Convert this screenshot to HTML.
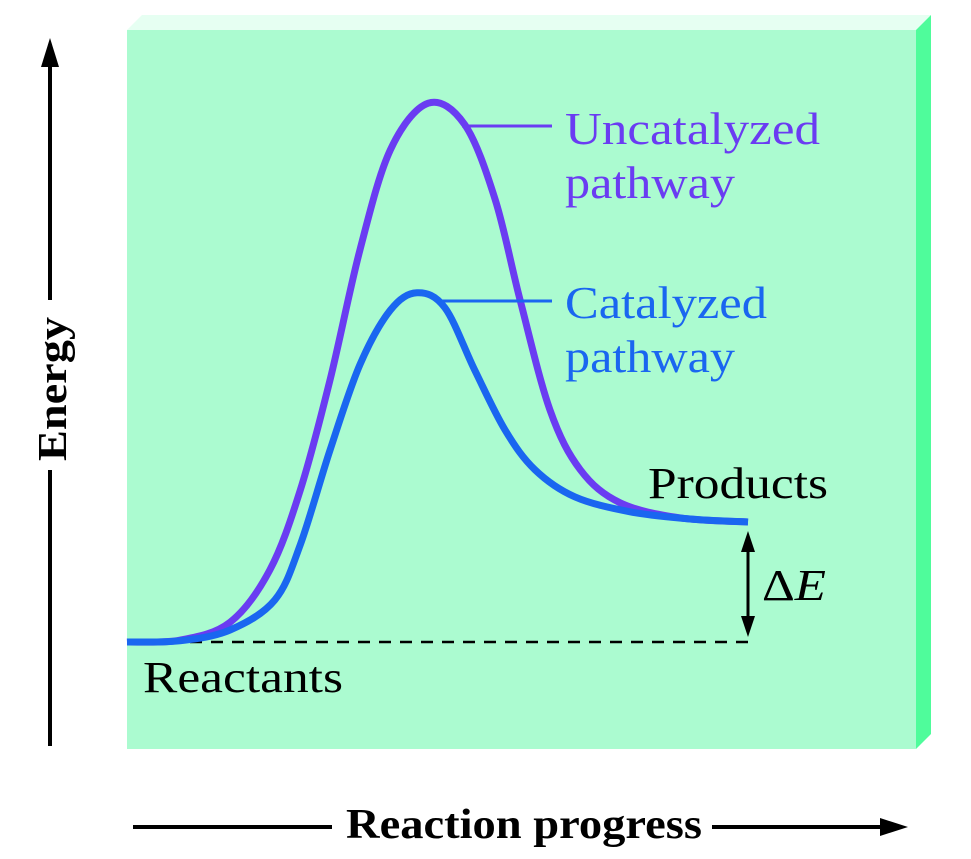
<!DOCTYPE html>
<html><head><meta charset="utf-8"><style>
html,body{margin:0;padding:0;background:#fff;}
svg{display:block;}
text{font-family:"Liberation Serif",serif;}
</style></head><body>
<svg width="971" height="859" viewBox="0 0 971 859">
  <polygon points="127,30 142,15 931,15 916,30" fill="#e6fff2"/>
  <polygon points="916,30 931,15 931,734 916,749" fill="#4ffc9b"/>
  <rect x="127" y="30" width="789" height="719" fill="#abfbd0"/>

  <g>
    <line x1="50" y1="64" x2="50" y2="300" stroke="#000" stroke-width="4"/>
    <line x1="50" y1="470" x2="50" y2="746" stroke="#000" stroke-width="4"/>
    <polygon points="50,38 41,67 59,67" fill="#000"/>
  </g>
  <text transform="translate(66,461) rotate(-90)" font-size="41" font-weight="bold" textLength="144" lengthAdjust="spacingAndGlyphs">Energy</text>

  <g>
    <line x1="133" y1="827" x2="332" y2="827" stroke="#000" stroke-width="4"/>
    <line x1="712" y1="827" x2="885" y2="827" stroke="#000" stroke-width="4"/>
    <polygon points="908,827 880,818 880,836" fill="#000"/>
  </g>
  <text x="346" y="838" font-size="42" font-weight="bold" textLength="356" lengthAdjust="spacingAndGlyphs">Reaction progress</text>

  <line x1="127" y1="642" x2="752" y2="642" stroke="#000" stroke-width="2.5" stroke-dasharray="12,9"/>
  <g>
    <line x1="748" y1="548" x2="748" y2="620" stroke="#000" stroke-width="3"/>
    <polygon points="748,531 741,552 755,552" fill="#000"/>
    <polygon points="748,637 741,616 755,616" fill="#000"/>
  </g>
  <text x="762" y="600" font-size="44" textLength="64" lengthAdjust="spacingAndGlyphs">Δ<tspan font-style="italic">E</tspan></text>

  <g id="curves"></g>

  <line x1="462" y1="126" x2="552" y2="126" stroke="#6a3cf2" stroke-width="3"/>
  <line x1="440" y1="301" x2="552" y2="301" stroke="#1a66f0" stroke-width="3"/>
  <text x="565" y="144" font-size="45" fill="#6a3cf2" textLength="255" lengthAdjust="spacingAndGlyphs">Uncatalyzed</text>
  <text x="565" y="198" font-size="45" fill="#6a3cf2" textLength="170" lengthAdjust="spacingAndGlyphs">pathway</text>
  <text x="565" y="318" font-size="45" fill="#1a66f0" textLength="202" lengthAdjust="spacingAndGlyphs">Catalyzed</text>
  <text x="565" y="372" font-size="45" fill="#1a66f0" textLength="170" lengthAdjust="spacingAndGlyphs">pathway</text>
  <text x="648" y="498" font-size="44" textLength="180" lengthAdjust="spacingAndGlyphs">Products</text>
  <text x="143" y="692" font-size="44" textLength="200" lengthAdjust="spacingAndGlyphs">Reactants</text>
</svg>
<script>
// progress: 0..100 ; energy: 0 = reactants
const uncatProgress = [0,8.5,16.6,23.0,27.9,32.7,37.5,42.4,48.5,54.4,59.3,63.3,68.1,73.0,79.4,89.0,100];
const uncatEnergy   = [0,0.3,3.3,12.0,25.3,43.7,65.3,82.0,89.8,86.2,73.7,57.0,38.7,28.7,23.2,20.7,20];
const catProgress = [0,8.5,16.6,23.8,27.9,32.7,37.5,42.4,46.7,51.2,56.0,60.9,65.7,72.1,81.0,90.7,100];
const catEnergy   = [0,0.2,2.0,7.0,16.2,32.0,46.2,55.3,58.2,55.7,45.3,35.3,28.7,24.2,21.7,20.5,20];

function xScale(p){ return 127 + p * 6.21; }
function yScale(e){ return 642 - e * 6; }

function smoothPath(xs, ys){
  const pts = xs.map((p,i)=>[xScale(p), yScale(ys[i])]);
  let d = 'M' + pts[0][0] + ',' + pts[0][1];
  for (let i=0;i<pts.length-1;i++){
    const p0 = pts[i-1]||pts[i], p1=pts[i], p2=pts[i+1], p3=pts[i+2]||pts[i+1];
    const c1x = p1[0]+(p2[0]-p0[0])/6, c1y = p1[1]+(p2[1]-p0[1])/6;
    const c2x = p2[0]-(p3[0]-p1[0])/6, c2y = p2[1]-(p3[1]-p1[1])/6;
    d += ' C'+c1x+','+c1y+' '+c2x+','+c2y+' '+p2[0]+','+p2[1];
  }
  return d;
}
const ns='http://www.w3.org/2000/svg';
const g=document.getElementById('curves');
const u=document.createElementNS(ns,'path');
u.setAttribute('d',smoothPath(uncatProgress,uncatEnergy));
u.setAttribute('fill','none');u.setAttribute('stroke','#6a3cf2');u.setAttribute('stroke-width','7');


g.appendChild(u);
const c=document.createElementNS(ns,'path');
c.setAttribute('d',smoothPath(catProgress,catEnergy));
c.setAttribute('fill','none');c.setAttribute('stroke','#1a66f0');c.setAttribute('stroke-width','7');


g.appendChild(c);
</script>
</body></html>
